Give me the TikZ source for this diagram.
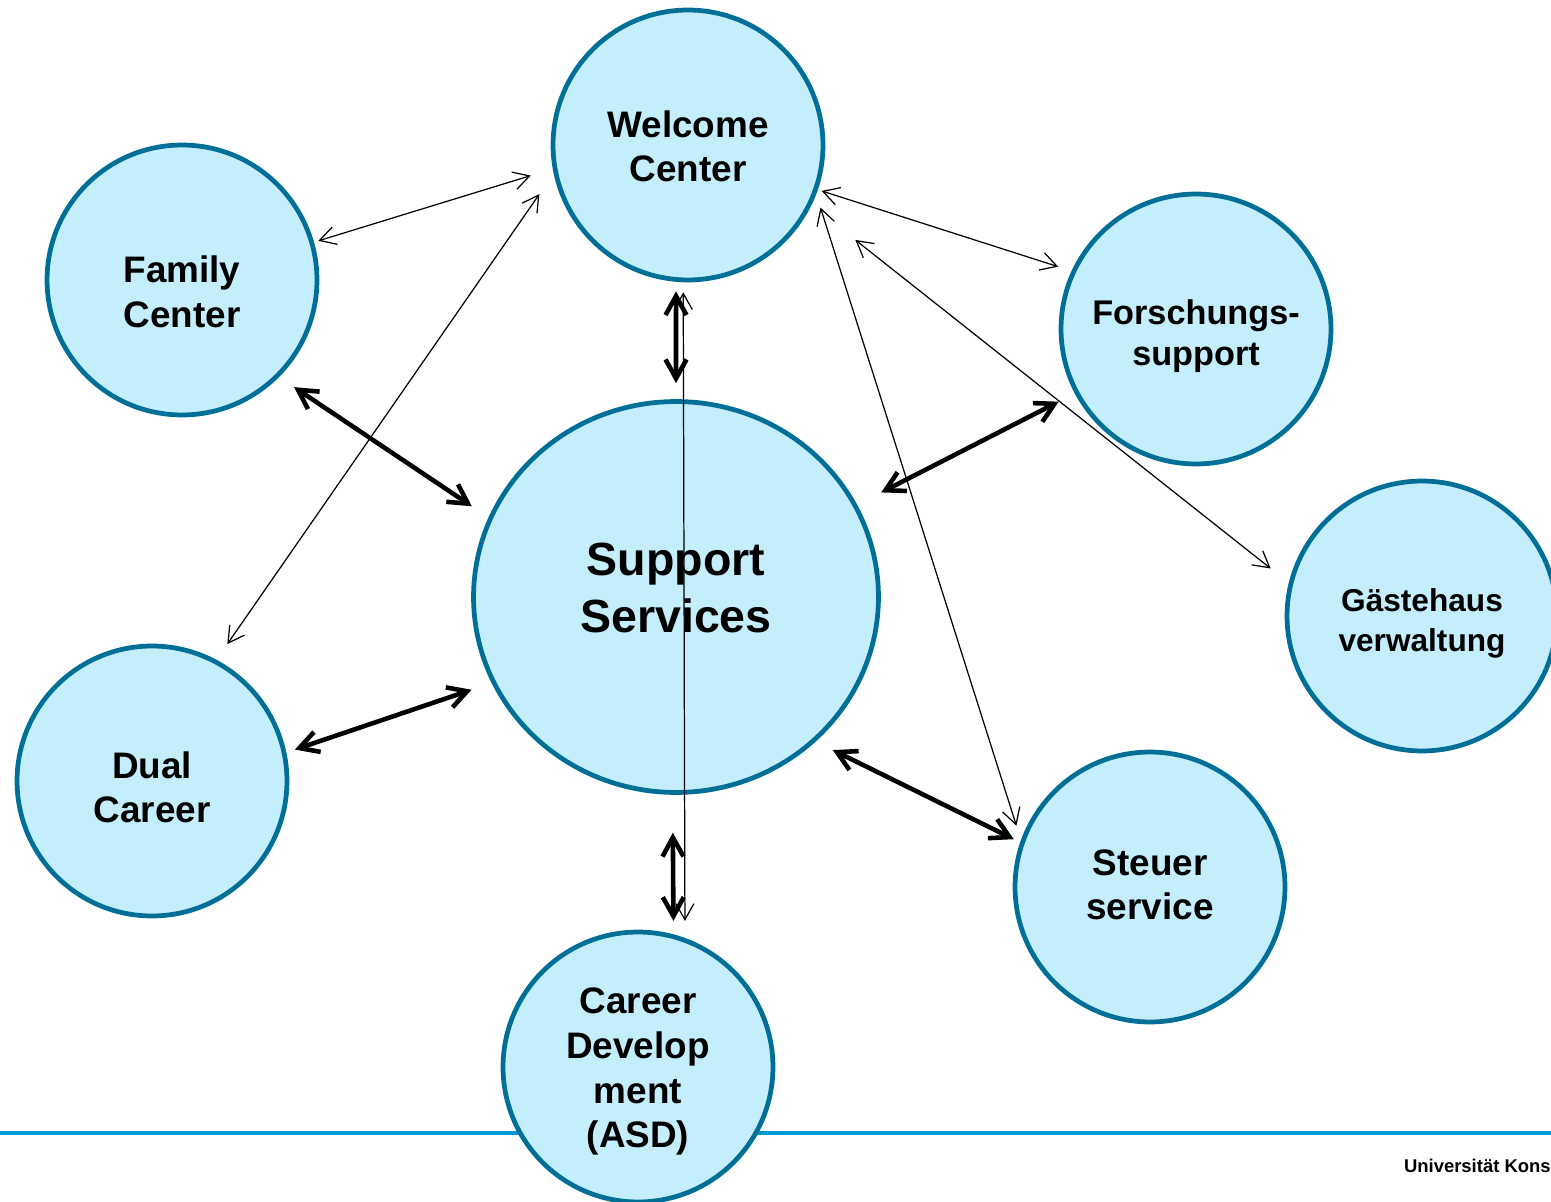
\documentclass[tikz,border=0pt]{standalone}
\usepackage{fontspec}
\setmainfont{Liberation Sans}
\usetikzlibrary{arrows.meta,shapes.geometric}
\definecolor{ringblue}{RGB}{0,111,152}
\definecolor{fillblue}{RGB}{197,238,253}
\definecolor{ruleblue}{RGB}{0,155,212}

\begin{document}
\begin{tikzpicture}[x=0.02cm, y=-0.02cm,
        service/.style={circle, draw=ringblue, fill=fillblue, line width=2.7pt, minimum size=5.4cm, inner sep=0pt, align=center, text depth=0pt, font=\bfseries\fontsize{21}{25.5}\selectfont},
        hub/.style={ellipse, draw=ringblue, fill=fillblue, line width=2.7pt, minimum width=8.1cm, minimum height=7.82cm, inner sep=0pt, align=center, text depth=0pt, font=\bfseries\fontsize{26.5}{32}\selectfont},
        link/.style={draw, line width=0.7pt, {Straight Barb[length=3.2mm,width=3.6mm]}-{Straight Barb[length=3.2mm,width=3.6mm]}},
        mainlink/.style={draw, line width=2.6pt, {Straight Barb[length=3.8mm,width=4.2mm]}-{Straight Barb[length=3.8mm,width=4.2mm]}}]
    \useasboundingbox (0,0) rectangle (1551,1202);

    % Footer rule
    \draw[ruleblue, line width=2pt] (0,1133) -- (1551,1133);
    \node[anchor=base east, inner sep=0pt, font=\bfseries\fontsize{10.5}{12}\selectfont] (uni) at (1551,1172) {Universität Kons};

    % Services
    \node[service, text height=42pt] (wc) at (688,145) {Welcome\\Center};
    \node[service, text height=54pt] (fc) at (182,280) {Family\\Center};
    \node[service, text height=41pt, font=\bfseries\fontsize{19.5}{23}\selectfont] (fs) at (1196,329) {Forschungs-\\support};
    \node[service, text height=40pt, font=\bfseries\fontsize{18}{22.5}\selectfont] (gh) at (1422,616) {Gästehaus\\verwaltung};
    \node[hub, text height=40pt] (ss) at (676,597) {Support\\Services};
    \node[service, text height=47.6pt] (dc) at (152,781) {Dual\\Career};
    \node[service, text height=37.4pt] (st) at (1150,887) {Steuer\\service};
    \node[service, text height=92pt] (cd) at (638,1067) {Career\\Develop\\ment\\(ASD)};

    % Welcome Center links
    \draw[link, shorten <=0.09cm, shorten >=0.46cm] (fc.16) -- (wc.190);
    \draw[link, shorten <=0.38cm, shorten >=0.5cm] (dc.62) -- (wc.192);
    \draw[link, shorten <=0.08cm, shorten >=0.28cm] (wc.341) -- (fs.155);
    \draw[link, shorten <=1.12cm, shorten >=0.46cm] (wc.334) -- (gh.166);
    \draw[link, shorten <=0.28cm, shorten >=0.3cm] (wc.339) -- (st.160);
    \draw[link, shorten <=0.2cm, shorten >=0.34cm] (wc.268) -- (cd.70);

    % Support Services links
    \draw[mainlink, shorten <=0.19cm, shorten >=0.32cm] (wc.265) -- (ss.90);
    \draw[mainlink, shorten <=0.36cm, shorten >=0.4cm] (fc.315) -- (ss.157);
    \draw[mainlink, shorten <=0.18cm, shorten >=0.42cm] (dc.12) -- (ss.205);
    \draw[mainlink, shorten <=0.54cm, shorten >=0.36cm] (ss.27) -- (fs.208);
    \draw[mainlink, shorten <=0.38cm, shorten >=0.14cm] (ss.314) -- (st.161);
    \draw[mainlink, shorten <=0.76cm, shorten >=0.27cm] (ss.269) -- (cd.75);
\end{tikzpicture}
\end{document}
